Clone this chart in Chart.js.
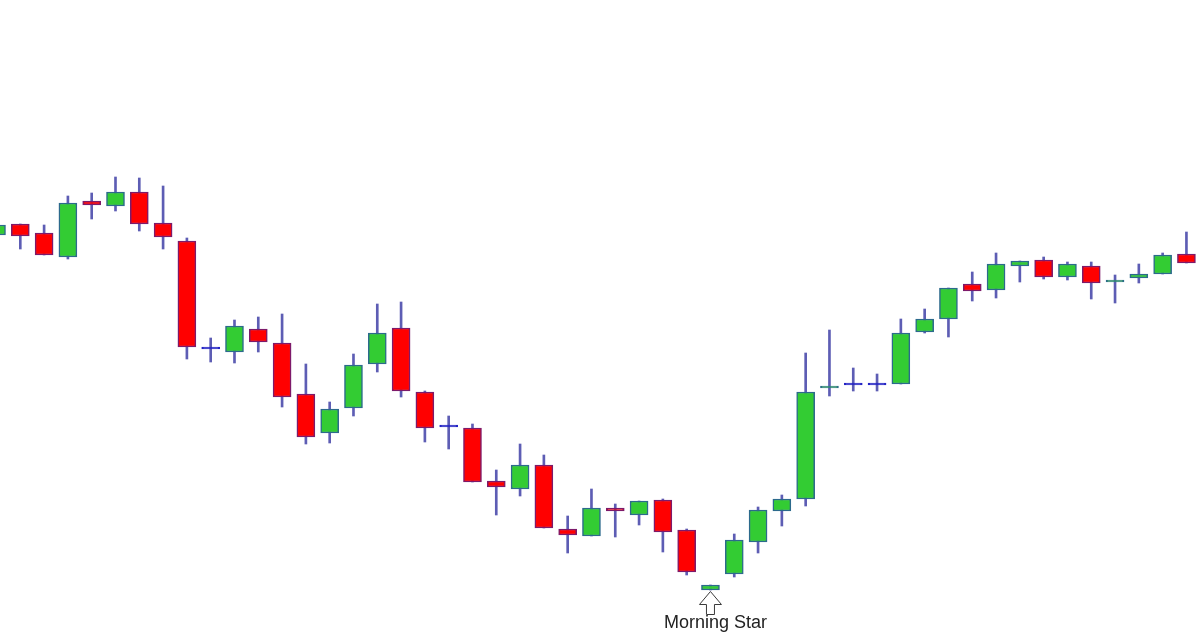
<!DOCTYPE html>
<html>
<head>
<meta charset="utf-8">
<title>Morning Star</title>
<script src="https://cdn.jsdelivr.net/npm/chart.js@4.4.1/dist/chart.umd.min.js"></script>
<style>
  html, body { margin: 0; padding: 0; background: #fff; }
  #chart-container { width: 1200px; height: 643px; position: relative; }
</style>
</head>
<body>
<div id="chart-container"><canvas id="candleChart"></canvas></div>
<script>
// price data (one entry per candle)
var opens  = [40.8, 41.9, 41.0, 38.6, 44.2, 43.7, 45.1, 42.0, 40.2, 29.4,
              29.1, 31.4, 30.0, 24.9, 21.0, 23.5, 27.9, 31.5, 25.1, 21.6,
              21.5, 16.2, 15.4, 17.8, 11.4, 10.7, 13.5, 12.8, 14.3, 11.3,
              5.3, 6.9, 10.1, 13.2, 14.4, 25.5, 25.8, 25.8, 25.9, 31.1,
              32.4, 35.9, 35.3, 37.7, 38.3, 36.6, 37.7, 36.1, 36.5, 36.9, 38.9];
var closes = [41.8, 40.7, 38.8, 44.0, 43.8, 45.1, 41.9, 40.6, 29.6, 29.4,
              31.7, 30.1, 24.6, 20.6, 23.4, 27.8, 31.0, 25.2, 21.5, 21.6,
              16.1, 15.6, 17.8, 11.5, 10.8, 13.5, 13.2, 14.2, 11.1, 7.1,
              5.8, 10.3, 13.3, 14.4, 25.1, 25.7, 25.8, 25.8, 31.0, 32.4,
              35.5, 35.2, 37.9, 38.2, 36.6, 37.9, 36.0, 36.3, 36.9, 38.8, 38.0];
var highs  = [41.8, 41.9, 41.8, 44.7, 45.0, 46.6, 46.5, 45.7, 40.5, 30.5,
              32.3, 32.6, 32.9, 27.9, 24.1, 28.9, 33.9, 34.1, 25.2, 22.7,
              21.9, 17.3, 19.9, 18.8, 12.7, 15.4, 13.9, 14.2, 14.4, 11.4,
              5.8, 10.9, 13.6, 14.8, 29.0, 31.3, 27.5, 26.9, 32.4, 33.4,
              35.5, 37.1, 39.0, 38.2, 38.6, 38.1, 38.1, 36.8, 37.9, 39.0, 41.1];
var lows   = [40.8, 39.4, 38.8, 38.4, 42.4, 43.2, 41.2, 39.4, 28.4, 28.1,
              28.0, 29.1, 23.6, 19.9, 20.0, 22.7, 27.1, 24.6, 20.1, 19.4,
              16.1, 12.8, 14.7, 11.5, 9.0, 10.7, 10.6, 11.8, 9.1, 6.8,
              5.3, 6.6, 9.0, 11.7, 13.7, 24.7, 25.2, 25.2, 25.9, 31.0,
              30.6, 34.2, 34.5, 36.1, 36.4, 36.3, 34.4, 34.0, 36.0, 36.9, 38.0];

var patternIndex = 30;
var patternLabel = 'Morning Star';

var bodies = [], wicks = [], fills = [], borders = [];
for (var i = 0; i < opens.length; i++) {
  bodies.push({ x: i, y: [opens[i], closes[i]] });
  wicks.push({ x: i, y: [lows[i], highs[i]] });
  if (opens[i] === closes[i]) {
    // doji: plain blue dash
    fills.push('#2323c4');
    borders.push('#2323c4');
  } else if (closes[i] > opens[i]) {
    fills.push('#33cc33');
    borders.push('#2c6a8c');
  } else {
    fills.push('#ff0000');
    borders.push('#7d1a6a');
  }
}

// draws the arrow and caption under the pattern candle
var patternMarker = {
  id: 'patternMarker',
  afterDatasetsDraw: function (chart) {
    var ctx = chart.ctx;
    var x = chart.scales.x.getPixelForValue(patternIndex);
    var top = chart.scales.y.getPixelForValue(lows[patternIndex]) + 1.5;
    ctx.save();
    ctx.beginPath();
    ctx.moveTo(x, top);
    ctx.lineTo(x + 11, top + 13);
    ctx.lineTo(x + 4, top + 13);
    ctx.lineTo(x + 4, top + 23);
    ctx.lineTo(x - 4, top + 23);
    ctx.lineTo(x - 4, top + 13);
    ctx.lineTo(x - 11, top + 13);
    ctx.closePath();
    ctx.fillStyle = '#ffffff';
    ctx.fill();
    ctx.lineWidth = 1;
    ctx.strokeStyle = '#3a3a3a';
    ctx.stroke();
    ctx.font = '18px "Liberation Sans", Arial, sans-serif';
    ctx.fillStyle = '#222222';
    ctx.textAlign = 'center';
    ctx.textBaseline = 'alphabetic';
    ctx.fillText(patternLabel, x + 5, top + 36);
    ctx.restore();
  }
};

var ctx = document.getElementById('candleChart').getContext('2d');
window.candleChart = new Chart(ctx, {
  type: 'bar',
  data: {
    datasets: [{
      label: 'Body',
      data: bodies,
      backgroundColor: fills,
      borderColor: borders,
      borderWidth: 1.5,
      borderSkipped: false,
      barThickness: 18,
      minBarLength: 2,
      grouped: false,
      order: 0
    }, {
      label: 'Wick',
      data: wicks,
      backgroundColor: '#5d5db4',
      borderWidth: 0,
      barThickness: 2,
      grouped: false,
      order: 1
    }]
  },
  options: {
    responsive: true,
    maintainAspectRatio: false,
    animation: false,
    layout: { padding: 0 },
    plugins: {
      legend: { display: false },
      tooltip: { enabled: false }
    },
    scales: {
      x: { type: 'linear', min: 0.147, max: 50.57, offset: false, display: false },
      y: { min: 0, max: 64.3, display: false }
    }
  },
  plugins: [patternMarker]
});
</script>
</body>
</html>
